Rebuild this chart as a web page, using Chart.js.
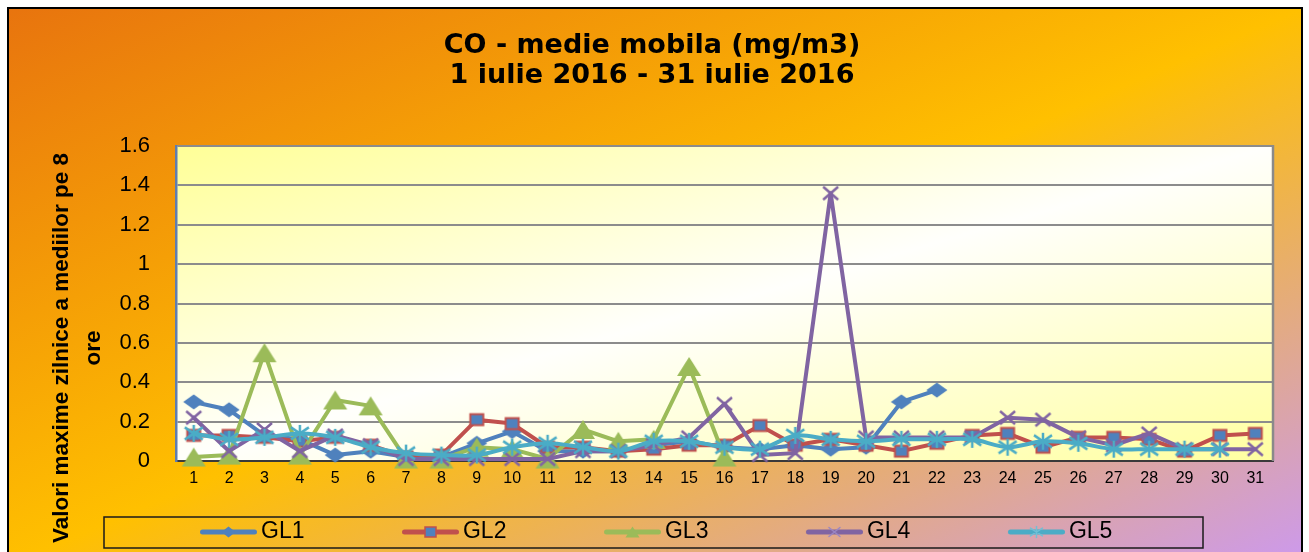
<!DOCTYPE html>
<html><head><meta charset="utf-8">
<script src="https://cdn.jsdelivr.net/npm/chart.js@4"></script>
<style>
html,body{margin:0;padding:0;background:#fff;overflow:hidden;width:1309px;height:552px;}
#frame{position:absolute;left:7px;top:7px;width:1296px;height:560px;box-sizing:border-box;border:2px solid #000;
background:linear-gradient(to bottom right,#E8740E 0%,#FFC000 50%,#CC99EE 100%);}
#c{position:absolute;left:0;top:0;}
</style></head><body>
<div id="frame"></div>
<canvas id="c" width="1309" height="560"></canvas>
<script>
// ---- data ----
const days = ['1','2','3','4','5','6','7','8','9','10','11','12','13','14','15','16','17','18','19','20','21','22','23','24','25','26','27','28','29','30','31'];
const gl1 = [0.30,0.26,0.13,0.11,0.03,0.05,0.02,0.02,0.09,0.15,0.05,0.05,0.05,0.08,0.10,0.07,0.06,0.08,0.06,0.07,0.30,0.36,null,null,null,null,null,null,null,null,null];
const gl2 = [0.13,0.13,0.12,0.10,0.12,0.08,0.02,0.03,0.21,0.19,0.07,0.07,0.05,0.06,0.08,0.08,0.18,0.08,0.11,0.08,0.05,0.09,0.13,0.14,0.07,0.12,0.12,0.11,0.05,0.13,0.14];
const gl3 = [0.02,0.03,0.55,0.03,0.31,0.28,0.01,0.01,0.07,0.06,0.01,0.16,0.10,0.11,0.48,0.02,null,null,null,null,null,null,null,null,null,null,null,null,null,null,null];
const gl4 = [0.22,0.05,0.16,0.05,0.13,0.08,0.01,0.01,0.01,0.01,0.01,0.05,0.05,0.08,0.12,0.29,0.03,0.04,1.36,0.12,0.12,0.12,0.12,0.22,0.21,0.12,0.08,0.14,0.06,0.06,0.06];
const gl5 = [0.14,0.11,0.12,0.14,0.12,0.07,0.04,0.03,0.03,0.07,0.09,0.07,0.05,0.10,0.10,0.07,0.06,0.13,0.11,0.10,0.11,0.11,0.11,0.07,0.10,0.09,0.06,0.06,0.06,0.06,null];
const seriesNames = ['GL1','GL2','GL3','GL4','GL5'];
const yTicks = [0,0.2,0.4,0.6,0.8,1,1.2,1.4,1.6];
const yTickLabels = ['0','0.2','0.4','0.6','0.8','1','1.2','1.4','1.6'];
const titleLines = ['CO - medie mobila (mg/m3)','1 iulie 2016 - 31 iulie 2016'];
const yTitleLines = ['Valori maxime zilnice a mediilor pe 8','ore'];

// ---- marker drawing ----
function mk(w,h,draw){const c=document.createElement('canvas');c.width=w;c.height=h;draw(c.getContext('2d'),w/2,h/2);return c;}
function diamond(ctx,x,y,hw,hh,fill){ctx.beginPath();ctx.moveTo(x,y-hh);ctx.lineTo(x+hw,y);ctx.lineTo(x,y+hh);ctx.lineTo(x-hw,y);ctx.closePath();ctx.fillStyle=fill;ctx.fill();}
function square(ctx,x,y,w,h,fill,stroke,lw){ctx.fillStyle=fill;ctx.fillRect(x-w/2,y-h/2,w,h);ctx.strokeStyle=stroke;ctx.lineWidth=lw;ctx.strokeRect(x-w/2,y-h/2,w,h);}
function triangle(ctx,x,y,w,h,fill){ctx.beginPath();ctx.moveTo(x,y-h/2);ctx.lineTo(x+w/2,y+h/2);ctx.lineTo(x-w/2,y+h/2);ctx.closePath();ctx.fillStyle=fill;ctx.fill();}
function xmark(ctx,x,y,w,h,color,lw){ctx.strokeStyle=color;ctx.lineWidth=lw;ctx.beginPath();ctx.moveTo(x-w/2,y-h/2);ctx.lineTo(x+w/2,y+h/2);ctx.moveTo(x+w/2,y-h/2);ctx.lineTo(x-w/2,y+h/2);ctx.stroke();}
function star(ctx,x,y,w,h,color,lw){xmark(ctx,x,y,w,h*0.72,color,lw);ctx.beginPath();ctx.moveTo(x,y-h/2);ctx.lineTo(x,y+h/2);ctx.stroke();}

const C1='#4F81BD',C2='#C0504D',C3='#9BBB59',C4='#8064A2',C5='#4BACC6';
const pts = [
  mk(24,18,(c,x,y)=>diamond(c,x,y,10.5,7.5,C1)),
  mk(18,16,(c,x,y)=>square(c,x,y,13,11,C1,C2,2)),
  mk(26,21,(c,x,y)=>triangle(c,x,y,24,19,C3)),
  mk(19,17,(c,x,y)=>xmark(c,x,y,15,13,C4,2.5)),
  mk(22,21,(c,x,y)=>star(c,x,y,18,17,C5,2.5))
];
const LW=152, LH=24;
function legendIcon(color,drawMarker){
  return mk(LW,LH,(c,x,y)=>{
    c.strokeStyle=color;c.lineWidth=5;c.lineCap='round';
    c.beginPath();c.moveTo(LW-57+2.5,y);c.lineTo(LW-2.5,y);c.stroke();
    drawMarker(c,LW-28.5,y);
  });
}
const icons = [
  legendIcon(C1,(c,x,y)=>diamond(c,x,y,7,5.5,C1)),
  legendIcon(C2,(c,x,y)=>square(c,x,y,11,10,C1,C2,1.5)),
  legendIcon(C3,(c,x,y)=>triangle(c,x,y,14,11,C3)),
  legendIcon(C4,(c,x,y)=>xmark(c,x,y,11,9,'#9A86C4',1.5)),
  legendIcon(C5,(c,x,y)=>star(c,x,y,12,11,'#6FC0D6',1.5))
];

// ---- plugins ----
const decor = {
  id:'decor',
  beforeDraw(chart){
    const {ctx,chartArea:a}=chart;
    const W=a.right-a.left,H=a.bottom-a.top,cx=(a.left+a.right)/2,cy=(a.top+a.bottom)/2;
    const t=W*H/(W*W+H*H);
    const g=ctx.createLinearGradient(cx-t*H,cy-t*W,cx+t*H,cy+t*W);
    g.addColorStop(0,'#FFFF97');g.addColorStop(0.5,'#FFFFFC');g.addColorStop(1,'#FFFFA0');
    ctx.save();ctx.fillStyle=g;ctx.fillRect(a.left,a.top,W,H);ctx.restore();
  },
  afterDraw(chart){
    const {ctx,chartArea:a}=chart;
    ctx.save();
    ctx.strokeStyle='#8A8A8A';ctx.lineWidth=2.5;
    ctx.beginPath();ctx.moveTo(a.right,a.top-1);ctx.lineTo(a.right,a.bottom);ctx.stroke();
    // legend frame
    const L=chart.legend;
    ctx.strokeStyle='#1a1a1a';ctx.lineWidth=1.5;
    ctx.strokeRect(L.left+1.5,L.top+6.5,1099,31);
    // titles
    ctx.fillStyle='#000';ctx.textAlign='center';ctx.textBaseline='alphabetic';
    ctx.font='bold 27px "DejaVu Sans"';
    ctx.fillText(titleLines[0],652,52.5);
    ctx.fillText(titleLines[1],652,83);
    ctx.font='bold 22.5px "Liberation Sans"';
    [[yTitleLines[0],68],[yTitleLines[1],100]].forEach(([s,x])=>{
      ctx.save();ctx.translate(x,348);ctx.rotate(-Math.PI/2);ctx.fillText(s,0,0);ctx.restore();
    });
    ctx.restore();
  }
};

const series=[gl1,gl2,gl3,gl4,gl5];
const colors=[C1,C2,C3,C4,C5];
const datasets=series.map((d,i)=>({
  label:seriesNames[i],data:d,borderColor:colors[i],backgroundColor:colors[i],
  borderWidth:4,borderJoinStyle:'round',borderCapStyle:'round',
  pointStyle:pts[i],pointRadius:8,tension:i===4?0.3:0,order:5-i,clip:false
}));

const font='"Liberation Sans", Arial, sans-serif';
new Chart(document.getElementById('c'),{
  type:'line',
  data:{labels:days,datasets},
  options:{
    responsive:false,animation:false,devicePixelRatio:1,events:[],
    layout:{padding:{top:146,left:102.5,right:36,bottom:6.5}},
    plugins:{
      title:{display:false},tooltip:{enabled:false},
      legend:{position:'bottom',align:'start',
        labels:{usePointStyle:true,pointStyleWidth:137,padding:10,color:'#000',font:{family:font,size:23},
          sort:(a,b)=>a.datasetIndex-b.datasetIndex,
          generateLabels(chart){
            const items=Chart.defaults.plugins.legend.labels.generateLabels(chart);
            items.forEach(it=>{it.pointStyle=icons[it.datasetIndex];it.fontColor='#000';});
            return items;
          }}}
    },
    scales:{
      x:{type:'category',offset:true,
        grid:{display:false,drawTicks:false},
        border:{display:true,color:'#3a3a3a',width:2},
        ticks:{color:'#000',font:{family:font,size:16},padding:8,autoSkip:false,maxRotation:0},
        afterFit(s){s.height=49.5;}},
      y:{min:0,max:1.6,
        grid:{color:'#8C8C8C',lineWidth:2,drawTicks:false},
        border:{color:'#5F7DAF',width:2.5},
        ticks:{color:'#000',font:{family:font,size:22},padding:26,callback:(v,i)=>yTickLabels[i]},
        afterBuildTicks(s){s.ticks=yTicks.map(v=>({value:v}));},
        afterFit(s){s.width=73.5;}}
    }
  },
  plugins:[decor]
});
</script>
</body></html>
